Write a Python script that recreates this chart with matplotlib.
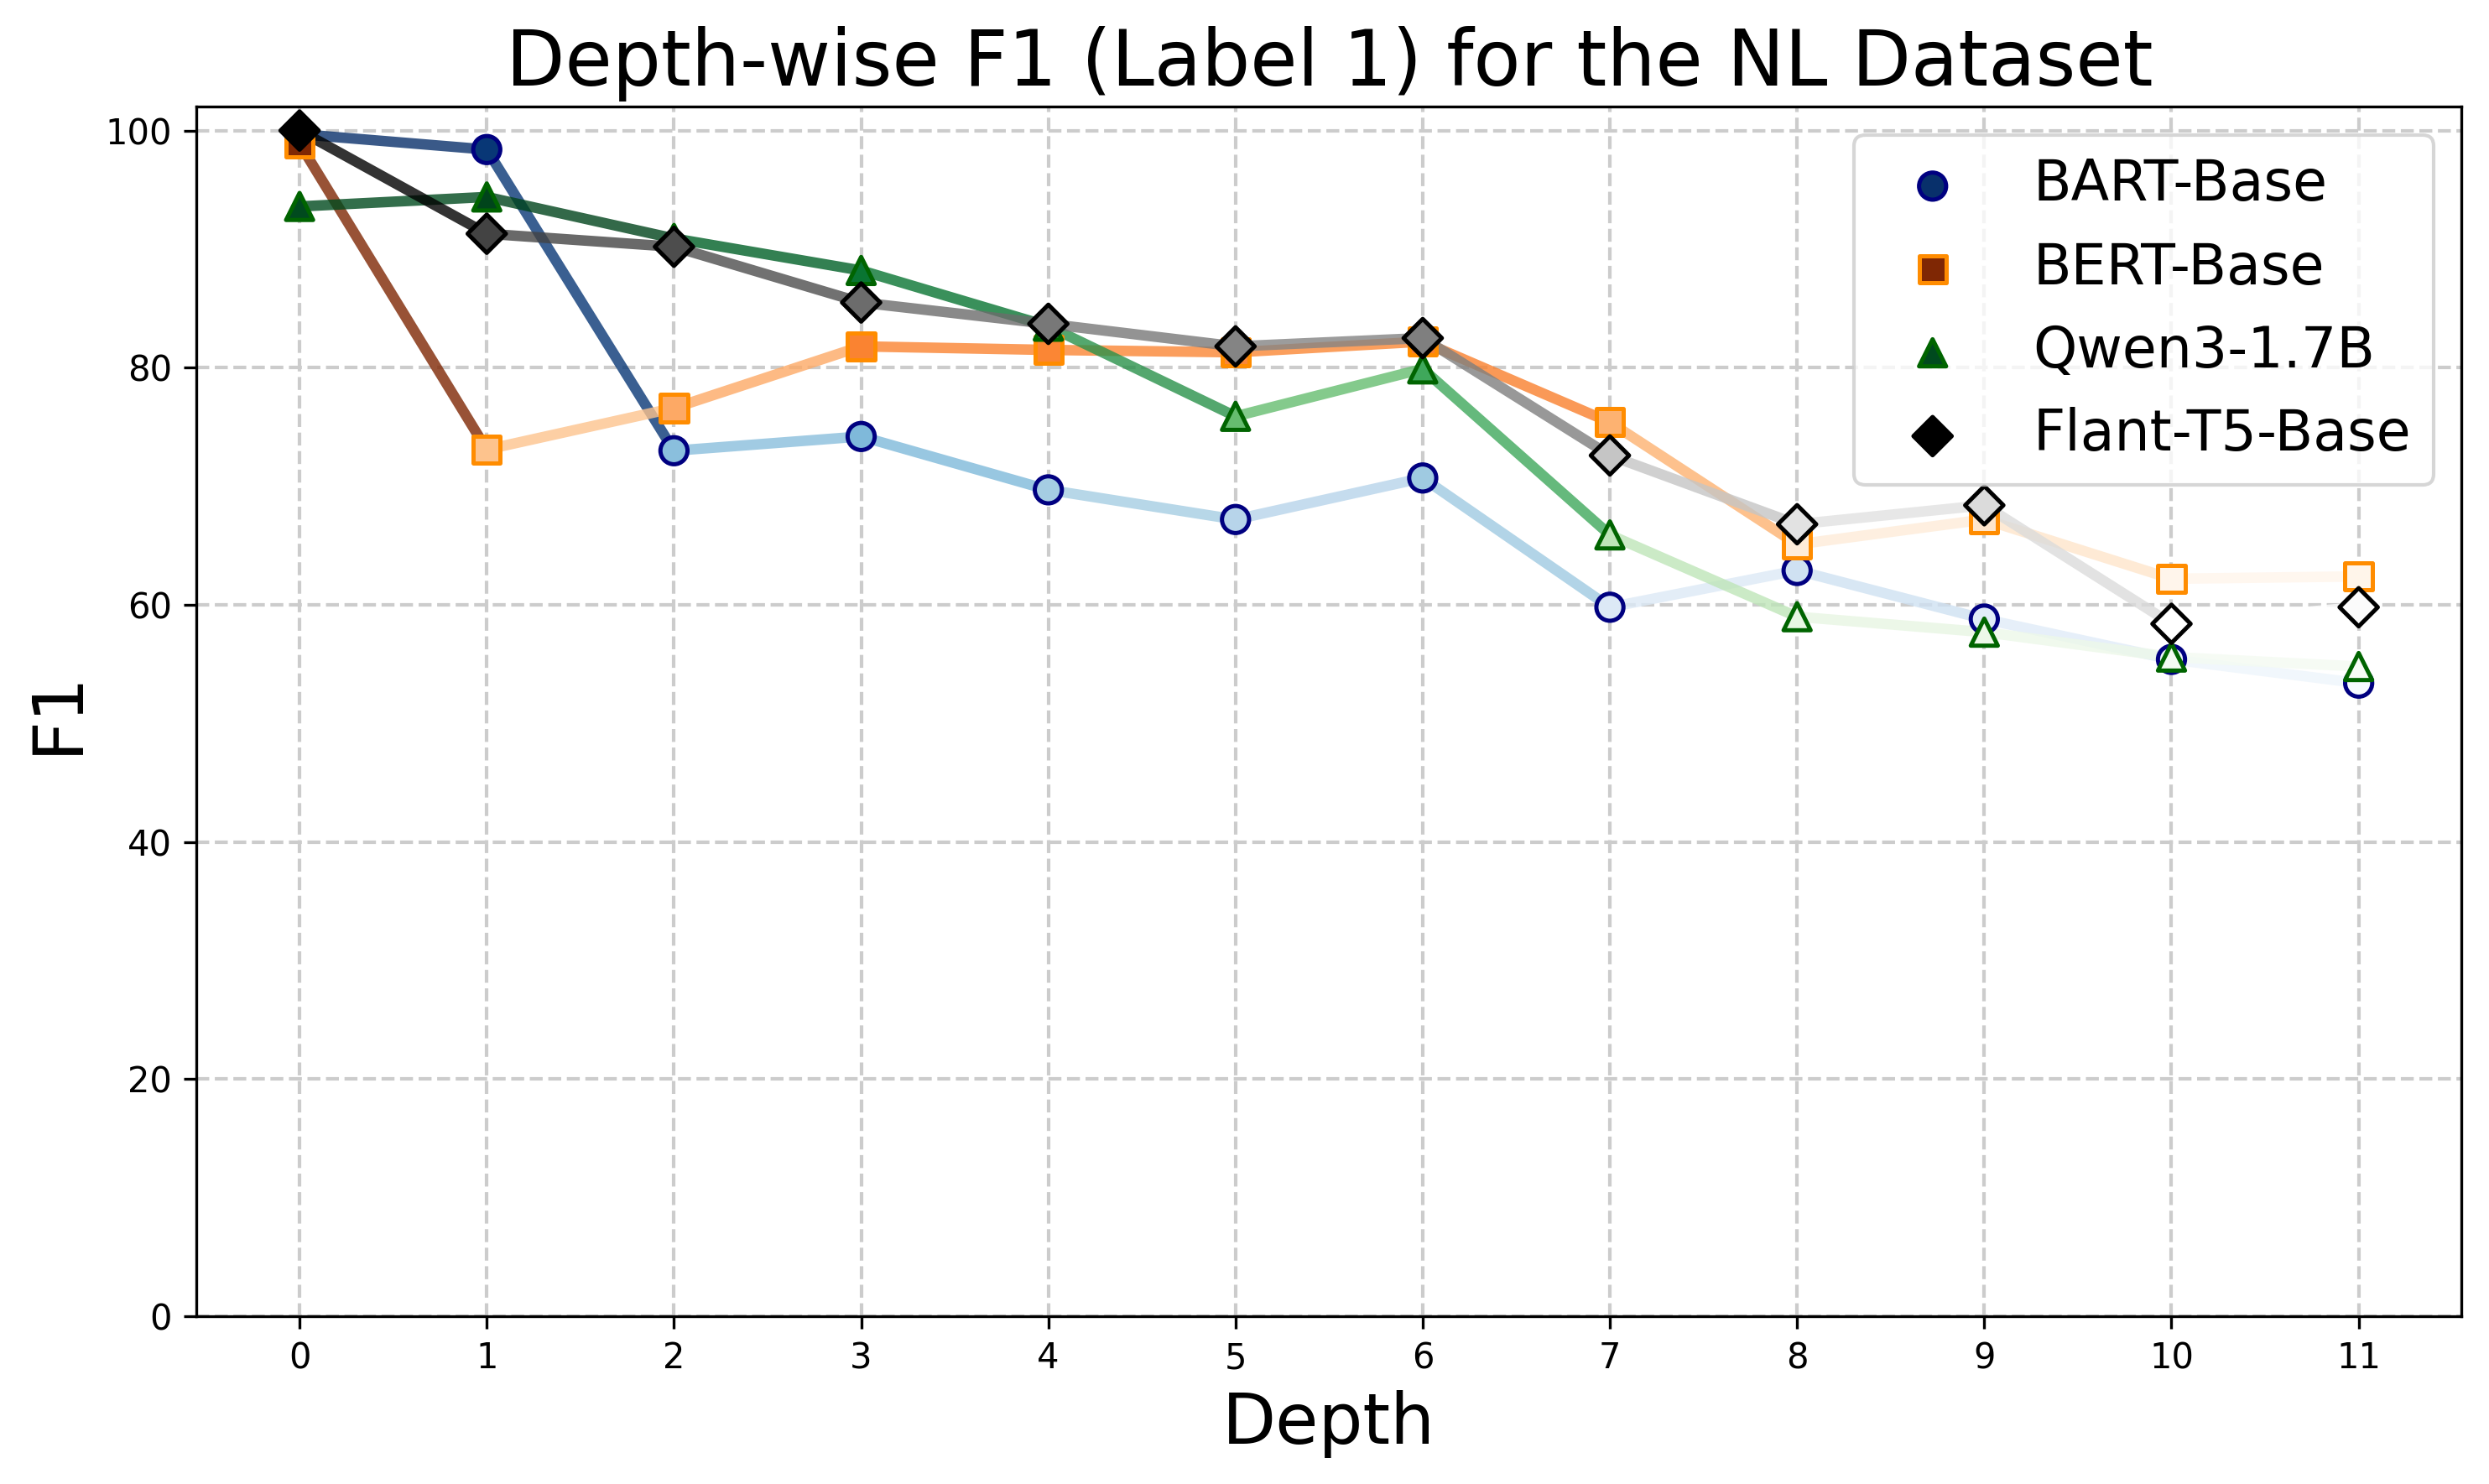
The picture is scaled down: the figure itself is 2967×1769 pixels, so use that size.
import matplotlib
matplotlib.use("Agg")
import matplotlib.pyplot as plt
from matplotlib.collections import LineCollection
from matplotlib.colors import Normalize
import numpy as np

depths = list(range(12))

models = ["BART-Base", "BERT-Base", "Qwen3-1.7B", "Flant-T5-Base"]
bart = [99.7, 98.4, 73.0, 74.2, 69.7, 67.2, 70.7, 59.8, 62.9, 58.8, 55.4, 53.4]
bert = [98.9, 73.1, 76.6, 81.8, 81.5, 81.3, 82.2, 75.4, 65.1, 67.2, 62.2, 62.4]
qwen = [93.6, 94.4, 90.9, 88.2, 83.5, 75.9, 79.9, 65.9, 59.0, 57.7, 55.6, 54.8]
flan = [100.0, 91.3, 90.2, 85.5, 83.7, 81.8, 82.5, 72.6, 66.8, 68.4, 58.4, 59.8]

series = [bart, bert, qwen, flan]
cmaps = ["Blues", "Oranges", "Greens", "Greys"]
edges = ["navy", "darkorange", "darkgreen", "black"]
markers = ["o", "s", "^", "D"]

fig = plt.figure(figsize=(2967 / 300, 1769 / 300), dpi=300)
ax = fig.add_axes([0.079, 0.113, 0.910, 0.815])

for name, vals, cm, ec, mk in zip(models, series, cmaps, edges, markers):
    x = np.array(depths)
    y = np.array(vals)
    cmap = plt.get_cmap(cm)
    norm = Normalize(vmin=y.min(), vmax=y.max())
    # each segment coloured by the value at its start point
    segs = [[(x[i], y[i]), (x[i + 1], y[i + 1])] for i in range(len(x) - 1)]
    lc = LineCollection(segs, colors=cmap(norm(y[:-1])), linewidths=3, alpha=0.8, zorder=2)
    ax.add_collection(lc)
    ax.scatter(x, y, c=y, cmap=cmap, norm=norm, marker=mk, s=60,
               edgecolors=ec, linewidths=1.2, zorder=3, label=name)

ax.set_xlim(-0.55, 11.55)
ax.set_ylim(0, 102)
ax.set_xticks(depths)
ax.set_title("Depth-wise F1 (Label 1) for the NL Dataset", fontsize=22)
ax.set_xlabel("Depth", fontsize=20)
ax.set_ylabel("F1", fontsize=20)
ax.grid(True, linestyle="--", color="#cccccc", linewidth=1)
ax.set_axisbelow(True)
ax.legend(loc="upper right", fontsize=16)

plt.savefig("out.png", dpi=300)
